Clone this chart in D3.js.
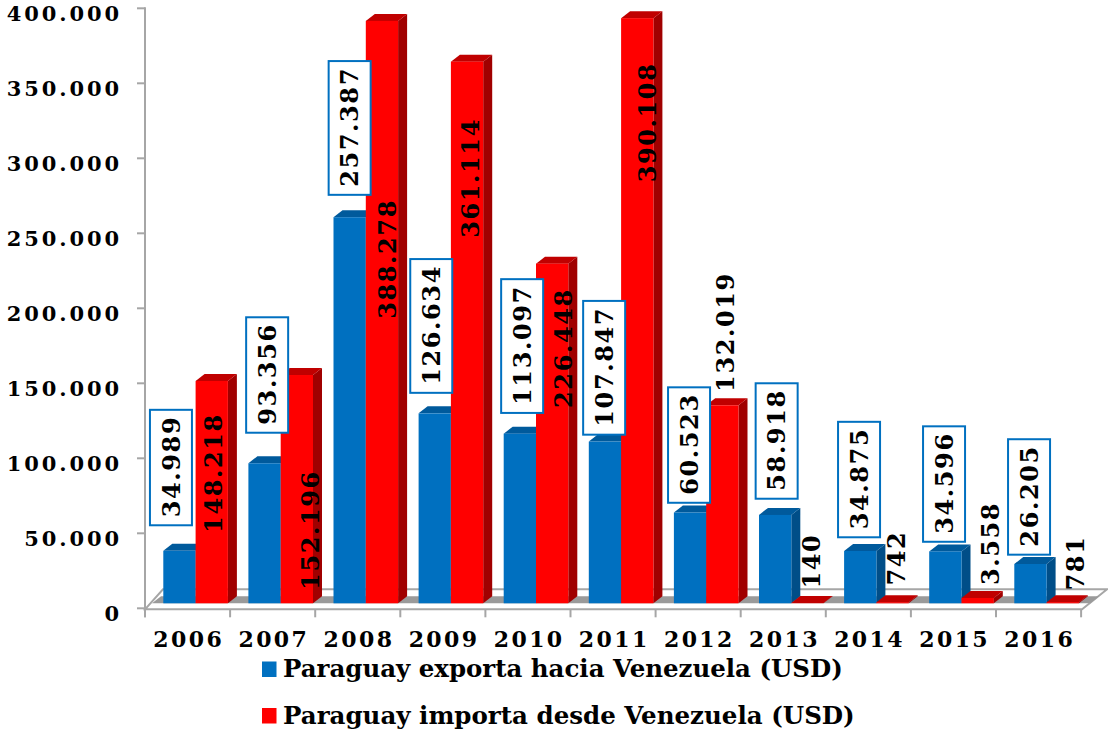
<!DOCTYPE html>
<html><head><meta charset="utf-8">
<script src="https://cdn.jsdelivr.net/npm/d3@7"></script>
<style>
html,body{margin:0;padding:0;background:#fff;}
svg{display:block;}
text{font-family:"DejaVu Serif",Georgia,serif;font-weight:bold;fill:#000;}
</style></head>
<body>
<svg id="chart" width="1108" height="731"></svg>
<script>
// ---- data ----
const years = ["2006","2007","2008","2009","2010","2011","2012","2013","2014","2015","2016"];
const exporta = [34989, 93356, 257387, 126634, 113097, 107847, 60523, 58918, 34875, 34596, 26205];
const importa = [148218, 152196, 388278, 361114, 226448, 390108, 132019, 140, 742, 3558, 781];
const yTicks = [0, 50000, 100000, 150000, 200000, 250000, 300000, 350000, 400000];
const seriesNames = ["Paraguay exporta hacia Venezuela (USD)", "Paraguay importa desde Venezuela (USD)"];
// label anchors (value units along the axis) and small horizontal nudges
const exportaLabelAt = [94500, 156200, 320900, 188900, 175500, 161000, 109500, 112200, 86500, 83500, 74900];
const exportaLabelNudge = [-8.5, 2.6, 0, -3.5, 2.3, -0.8, -1, 1.5, -1.2, -1.3, -1.4];
const importaLabelAt = [90200, 52200, 232900, 286900, 173500, 323900, 184200, 31500, 33500, 43200, 30200];
const importaLabelNudge = [1.6, 13.5, 5.4, 3.3, 11.2, 10, 3, 4, 4, 12.7, 12.6];

const fmt = d3.formatLocale({decimal: ",", thousands: ".", grouping: [3], currency: ["", ""]}).format(",d");

const svg = d3.select("#chart");
const y = d3.scaleLinear().domain([0, 400000]).range([608.3, 8.3]);
const x = d3.scaleBand().domain(years).range([145, 1081.1]);
const DX = 9, DY = 7, BACK = 5;      // 3D depth
const barW = 32.3, blueOff = 18.3;
const yb = v => y(v) - BACK;

const colors = {
  blue: {front: "#0070C0", top: "#005A9C", side: "#004E88"},
  red:  {front: "#FF0000", top: "#C00000", side: "#A00000"}
};

// ---- floor ----
const x0 = x.range()[0], x1 = x.range()[1];
const fy = y(0) + 1, by = y(0) - 19;
svg.append("polygon")
  .attr("points", [[x0, fy], [x0 + 18, by], [x1 + 26, by], [x1 + 1, fy]].map(p => p.join(",")).join(" "))
  .attr("fill", "#fff").attr("stroke", "#a6a6a6").attr("stroke-width", 2);
svg.append("polygon")
  .attr("points", [[x0 + 7, yb(0)], [x0 + 7 + DX, yb(0) - DY], [x1 + 18, yb(0) - DY], [x1 + 9, yb(0)]].map(p => p.join(",")).join(" "))
  .attr("fill", "#9a9a9a");

// ---- axes ----
const axisG = svg.append("g").attr("stroke", "#a6a6a6").attr("stroke-width", 2);
axisG.append("line").attr("x1", x0).attr("x2", x0).attr("y1", y(400000) - 1).attr("y2", y(0) + 9);
yTicks.forEach(t => {
  axisG.append("line").attr("x1", x0 - 8).attr("x2", x0).attr("y1", y(t)).attr("y2", y(t));
});
const bounds = years.map(d => x(d)).concat([x1]);
bounds.forEach(b => {
  axisG.append("line").attr("x1", b).attr("x2", b).attr("y1", y(0) + 1).attr("y2", y(0) + 9);
});
svg.append("g").selectAll("text").data(yTicks).join("text")
  .attr("x", 122).attr("y", d => y(d) + 12.5)
  .attr("text-anchor", "end").attr("font-size", 21).attr("letter-spacing", 2.9)
  .text(d => fmt(d));
svg.append("g").selectAll("text").data(years).join("text")
  .attr("x", d => x(d) + x.bandwidth() / 2 + 1.2).attr("y", 647)
  .attr("text-anchor", "middle").attr("font-size", 22).attr("letter-spacing", 2.4)
  .text(d => d);

// ---- 3D bars ----
function bar3d(g, xl, v, c) {
  const yt = yb(v), ybase = yb(0), xr = xl + barW;
  g.append("polygon").attr("points", [[xr, yt], [xr + DX, yt - DY], [xr + DX, ybase - DY], [xr, ybase]].map(p => p.join(",")).join(" ")).attr("fill", c.side);
  g.append("polygon").attr("points", [[xl, yt], [xl + DX, yt - DY], [xr + DX, yt - DY], [xr, yt]].map(p => p.join(",")).join(" ")).attr("fill", c.top);
  g.append("rect").attr("x", xl).attr("y", yt).attr("width", barW).attr("height", Math.max(0, ybase - yt)).attr("fill", c.front);
}
const barsG = svg.append("g");
years.forEach((yr, i) => {
  const bx = x(yr) + blueOff;
  bar3d(barsG, bx, exporta[i], colors.blue);
  bar3d(barsG, bx + barW, importa[i], colors.red);
});

// ---- labels ----
const LFS = 24, capH = 0.73 * LFS;
const labG = svg.append("g");
years.forEach((yr, i) => {
  // export label with box
  const cx = x(yr) + blueOff + barW / 2 + exportaLabelNudge[i];
  const cy = y(exportaLabelAt[i]);
  const g = labG.append("g").attr("transform", `translate(${cx},${cy}) rotate(-90)`);
  const rect = g.append("rect");
  const t = g.append("text").attr("x", 0).attr("y", capH / 2)
    .attr("text-anchor", "middle").attr("font-size", LFS).attr("letter-spacing", 1.6)
    .text(fmt(exporta[i]));
  const len = t.node().getComputedTextLength();
  rect.attr("x", -len / 2 - 8).attr("y", -21).attr("width", len + 14).attr("height", 42)
    .attr("fill", "#fff").attr("stroke", "#0070C0").attr("stroke-width", 2);
});
years.forEach((yr, i) => {
  const cx = x(yr) + blueOff + barW * 1.5 + importaLabelNudge[i];
  const cy = y(importaLabelAt[i]);
  labG.append("g").attr("transform", `translate(${cx},${cy}) rotate(-90)`)
    .append("text").attr("x", 0).attr("y", capH / 2)
    .attr("text-anchor", "middle").attr("font-size", LFS).attr("letter-spacing", 1.6)
    .text(fmt(importa[i]));
});

// ---- legend ----
const legG = svg.append("g");
const legTargets = [560, 572];
[colors.blue.front, colors.red.front].forEach((col, i) => {
  const base = 677 + i * 46.5;
  legG.append("rect").attr("x", 262).attr("y", base - 15.5).attr("width", 14.5).attr("height", 15.5).attr("fill", col);
  const t = legG.append("text").attr("x", 283).attr("y", base).attr("font-size", 20).text(seriesNames[i]);
  const w = t.node().getComputedTextLength();
  t.attr("font-size", 20 * legTargets[i] / w);
});
</script>
</body></html>
